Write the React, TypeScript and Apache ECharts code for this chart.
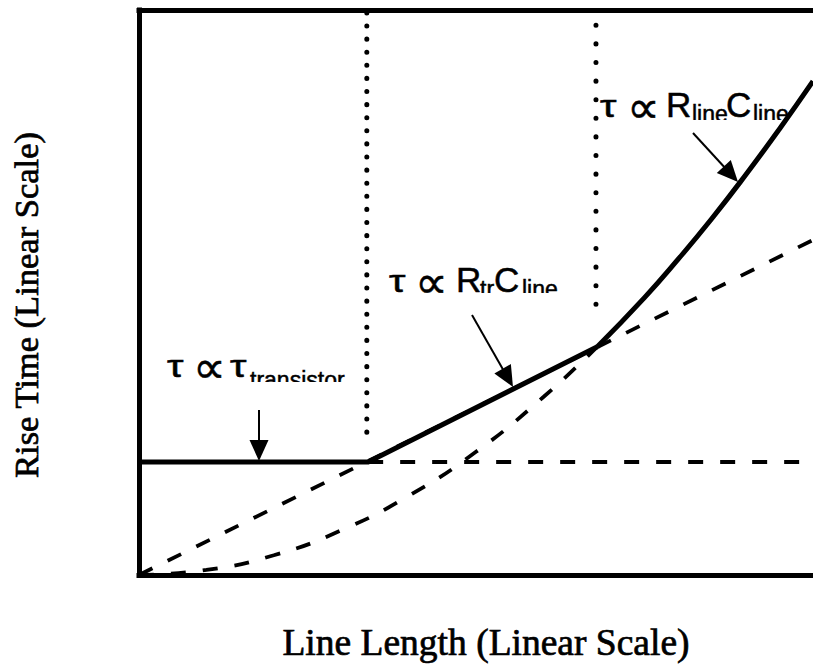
import React, { useEffect, useRef } from "react";
import * as echarts from "echarts";

// Line length (arbitrary linear units, 0..100) and rise time (0..100)
const solidLength = [0, 34, 68];
const solidRise = [20, 20, 40.4];

const rlcLength = [68, 75, 80, 85, 90, 95, 100];
const rlcRise = [40.4, 49.1, 55.9, 63.1, 70.8, 78.9, 87.4];

const quadDashLength = [0, 10, 20, 30, 40, 50, 60, 68];
const quadDashRise = [0, 0.9, 3.5, 7.9, 14.0, 21.8, 31.5, 40.4];

const linDashLength = [0, 100];
const linDashRise = [0, 59.3];

const flatDashLength = [34, 100];
const flatDashRise = [20, 20];

const divider1Length = [33.8, 33.8];
const divider1Rise = [99.5, 24.8];
const divider2Length = [67.8, 67.8];
const divider2Rise = [97.3, 45.0];

const pairs = (xs: number[], ys: number[]) => xs.map((x, i) => [x, ys[i]]);

const SANS = "Liberation Sans";
const SERIF = "Liberation Serif";

function txt(
  text: string,
  x: number,
  baseline: number,
  size: number,
  family = SANS,
  scaleX = 1
) {
  return {
    type: "text",
    x,
    y: baseline - 0.347 * size,
    scaleX,
    z: 1,
    style: {
      text,
      fontFamily: family,
      fontSize: size,
      fill: "#000",
      stroke: "#000",
      lineWidth: 0.5,
      align: "left",
      verticalAlign: "middle",
    },
  };
}

function clipRect(x: number, y: number, w: number, h: number) {
  return {
    type: "rect",
    z: 2,
    shape: { x, y, width: w, height: h },
    style: { fill: "#fff" },
  };
}

function arrow(x1: number, y1: number, x2: number, y2: number, len = 21, half = 9.5) {
  const dx = x2 - x1;
  const dy = y2 - y1;
  const d = Math.sqrt(dx * dx + dy * dy);
  const ux = dx / d;
  const uy = dy / d;
  const bx = x2 - ux * len;
  const by = y2 - uy * len;
  const px = -uy * half;
  const py = ux * half;
  return [
    {
      type: "line",
      z: 20,
      shape: { x1, y1, x2: bx + ux * 2, y2: by + uy * 2 },
      style: { stroke: "#000", lineWidth: 2 },
    },
    {
      type: "polygon",
      z: 20,
      shape: {
        points: [
          [x2, y2],
          [bx + px, by + py],
          [bx - px, by - py],
        ],
      },
      style: { fill: "#000" },
    },
  ];
}

function label(
  baseline: number,
  subShift: number,
  parts: { t: string; x: number; sub?: boolean; sym?: boolean; greek?: boolean }[]
) {
  return parts.map((p) =>
    p.sub
      ? txt(p.t, p.x, baseline + subShift, 23)
      : p.sym
      ? txt(p.t, p.x, baseline + 6, 46, "DejaVu Sans")
      : p.greek
      ? txt(p.t, p.x, baseline, 32, SANS, 1.3)
      : txt(p.t, p.x, baseline, 35)
  );
}

export default function App() {
  const ref = useRef<HTMLDivElement>(null);
  useEffect(() => {
    if (!ref.current) return;
    const chart = echarts.init(ref.current, undefined, { renderer: "svg" });
    const axisLine = { show: true, onZero: false, lineStyle: { color: "#000", width: 5, cap: "square" } };
    const dash = { color: "#000", width: 3.8, type: [15, 17] };
    const option = {
      animation: false,
      backgroundColor: "#fff",
      grid: { left: 139, right: 0, top: 10, bottom: 97, containLabel: false },
      xAxis: [
        {
          type: "value",
          min: 0,
          max: 100,
          axisLine,
          axisTick: { show: false },
          axisLabel: { show: false },
          splitLine: { show: false },
        },
        {
          type: "value",
          position: "top",
          min: 0,
          max: 100,
          axisLine,
          axisTick: { show: false },
          axisLabel: { show: false },
          splitLine: { show: false },
        },
      ],
      yAxis: {
        type: "value",
        min: 0,
        max: 100,
        axisLine,
        axisTick: { show: false },
        axisLabel: { show: false },
        splitLine: { show: false },
      },
      series: [
        {
          type: "line",
          z: 10,
          data: pairs(linDashLength, linDashRise),
          symbol: "none",
          lineStyle: dash,
        },
        {
          type: "line",
          z: 10,
          data: pairs(quadDashLength, quadDashRise),
          symbol: "none",
          smooth: true,
          lineStyle: dash,
        },
        {
          type: "line",
          z: 10,
          data: pairs(flatDashLength, flatDashRise),
          symbol: "none",
          lineStyle: dash,
        },
        {
          type: "line",
          z: 11,
          data: pairs(solidLength, solidRise),
          symbol: "none",
          lineStyle: { color: "#000", width: 5, join: "round" },
        },
        {
          type: "line",
          z: 11,
          data: pairs(rlcLength, rlcRise),
          symbol: "none",
          smooth: true,
          lineStyle: { color: "#000", width: 5 },
        },
        {
          type: "line",
          z: 10,
          data: pairs(divider1Length, divider1Rise),
          symbol: "none",
          lineStyle: { color: "#000", width: 5, type: [0.1, 13], cap: "round" },
        },
        {
          type: "line",
          z: 10,
          data: pairs(divider2Length, divider2Rise),
          symbol: "none",
          lineStyle: { color: "#000", width: 5, type: [0.1, 18.5], cap: "round" },
        },
      ],
      graphic: {
        elements: [
          // annotation 1
          ...label(377, 11, [
            { t: "τ", x: 167, greek: true },
            { t: "∝", x: 193, sym: true },
            { t: "τ", x: 230, greek: true },
            { t: "transistor", x: 250, sub: true },
          ]),
          clipRect(246, 382, 100, 14),
          // annotation 2
          ...label(292, 5, [
            { t: "τ", x: 389, greek: true },
            { t: "∝", x: 415, sym: true },
            { t: "R", x: 456 },
            { t: "tr", x: 480, sub: true },
            { t: "C", x: 494 },
            { t: "line", x: 522, sub: true },
          ]),
          clipRect(478, 293, 84, 12),
          // annotation 3
          ...label(117, 5, [
            { t: "τ", x: 600, greek: true },
            { t: "∝", x: 627, sym: true },
            { t: "R", x: 666 },
            { t: "line", x: 692, sub: true },
            { t: "C", x: 726 },
            { t: "line", x: 753, sub: true },
          ]),
          clipRect(690, 120, 113, 12),
          ...arrow(259, 410, 259, 461),
          ...arrow(472, 315, 513, 387),
          ...arrow(693, 133, 738, 182),
          {
            type: "text",
            x: 486,
            y: 642,
            style: {
              text: "Line Length (Linear Scale)",
              fontFamily: SERIF,
              fontSize: 37.5,
              fill: "#000",
              stroke: "#000",
              lineWidth: 0.7,
              align: "center",
              verticalAlign: "middle",
            },
          },
          {
            type: "text",
            x: 26,
            y: 305,
            rotation: Math.PI / 2,
            style: {
              text: "Rise Time (Linear Scale)",
              fontFamily: SERIF,
              fontSize: 34.5,
              fill: "#000",
              stroke: "#000",
              lineWidth: 0.7,
              align: "center",
              verticalAlign: "middle",
            },
          },
        ],
      },
    };
    chart.setOption(option as any);
    return () => chart.dispose();
  }, []);
  return (
    <div
      ref={ref}
      style={{ position: "absolute", left: 0, top: 0, width: 813, height: 672 }}
    />
  );
}
